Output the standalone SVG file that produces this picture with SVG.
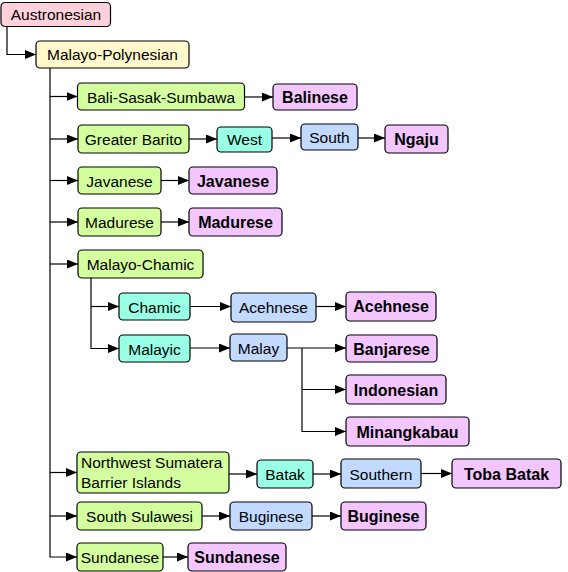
<svg xmlns="http://www.w3.org/2000/svg" width="568" height="572" viewBox="0 0 568 572">
<defs>
<marker id="arr" markerWidth="12" markerHeight="10" refX="11" refY="4.5" orient="auto" markerUnits="userSpaceOnUse">
<path d="M0,0 L11,4.5 L0,9 z" fill="#000"/>
</marker>
<style>
.n rect{stroke:#000;stroke-width:1.2}
.pk{fill:#ffd1dc}.yl{fill:#fff8cc}.gr{fill:#d4ff9e}.cy{fill:#99ffe5}.bl{fill:#c2daff}.pu{fill:#f4c6ff}
text{font-family:"Liberation Sans",Arial,sans-serif;font-size:15.5px;fill:#000;text-anchor:middle}
text.b{font-weight:bold;font-size:16px}
text.l{text-anchor:start}
.c path{fill:none;stroke:#000;stroke-width:1.2;marker-end:url(#arr)}
</style>
</defs>
<rect x="0" y="0" width="568" height="572" fill="#fff"/>
<g class="c" id="connectors">
<path d="M7,26 V54.5 H36"/>
<path d="M50,68 V557 H77"/>
<path d="M50,96.5 H77.5"/>
<path d="M50,139 H78"/>
<path d="M50,180.5 H78"/>
<path d="M50,222 H78"/>
<path d="M50,264 H78"/>
<path d="M50,472.5 H77"/>
<path d="M50,516 H77"/>
<path d="M244.5,97 H273"/>
<path d="M189,139 H217"/>
<path d="M272,138 H301"/>
<path d="M358,138 H385"/>
<path d="M161,180.5 H189"/>
<path d="M161,222 H189"/>
<path d="M91,278 V348.5 H119"/>
<path d="M91,306.5 H119"/>
<path d="M190,306.5 H231"/>
<path d="M316,306.5 H346"/>
<path d="M190,348 H230"/>
<path d="M287,348 H346"/>
<path d="M302,348 V431.5 H346"/>
<path d="M302,389.5 H346"/>
<path d="M229,474 H257"/>
<path d="M313,474 H341"/>
<path d="M421,473.5 H452"/>
<path d="M202,516 H230"/>
<path d="M312,516 H341"/>
<path d="M163,557 H188"/>
</g>
<g class="n" id="austronesian"><rect class="pk" x="1" y="2.5" width="109.5" height="24" rx="4"/><text x="56" y="20">Austronesian</text></g>
<g class="n" id="malayo-polynesian"><rect class="yl" x="36" y="41" width="153" height="27" rx="4"/><text x="112.5" y="60">Malayo-Polynesian</text></g>
<g class="n" id="bali-sasak-sumbawa"><rect class="gr" x="77.5" y="83" width="167" height="27" rx="4"/><text x="161" y="102.5">Bali-Sasak-Sumbawa</text></g>
<g class="n" id="balinese"><rect class="pu" x="273" y="84" width="84" height="26" rx="4"/><text class="b" x="315" y="103">Balinese</text></g>
<g class="n" id="greater-barito"><rect class="gr" x="78" y="125" width="111" height="28" rx="4"/><text x="133.5" y="145">Greater Barito</text></g>
<g class="n" id="west"><rect class="cy" x="217" y="127" width="55" height="25" rx="4"/><text x="244.5" y="145">West</text></g>
<g class="n" id="south"><rect class="bl" x="301" y="124" width="57" height="26" rx="4"/><text x="329.5" y="143">South</text></g>
<g class="n" id="ngaju"><rect class="pu" x="385" y="125" width="63" height="28" rx="4"/><text class="b" x="416.5" y="145">Ngaju</text></g>
<g class="n" id="javanese-g"><rect class="gr" x="78" y="167" width="83" height="27" rx="4"/><text x="119.5" y="186.5">Javanese</text></g>
<g class="n" id="javanese-p"><rect class="pu" x="189" y="167" width="88" height="27" rx="4"/><text class="b" x="233" y="186.5">Javanese</text></g>
<g class="n" id="madurese-g"><rect class="gr" x="78" y="208" width="83" height="28" rx="4"/><text x="119.5" y="228">Madurese</text></g>
<g class="n" id="madurese-p"><rect class="pu" x="189" y="208" width="93" height="28" rx="4"/><text class="b" x="235.5" y="228">Madurese</text></g>
<g class="n" id="malayo-chamic"><rect class="gr" x="78" y="250" width="125" height="28" rx="4"/><text x="140.5" y="270">Malayo-Chamic</text></g>
<g class="n" id="chamic"><rect class="cy" x="119" y="293" width="71" height="27" rx="4"/><text x="154.5" y="312.5">Chamic</text></g>
<g class="n" id="acehnese-b"><rect class="bl" x="231" y="293" width="85" height="29" rx="4"/><text x="273.5" y="313">Acehnese</text></g>
<g class="n" id="acehnese-p"><rect class="pu" x="346" y="292" width="90" height="29" rx="4"/><text class="b" x="391" y="312">Acehnese</text></g>
<g class="n" id="malayic"><rect class="cy" x="119" y="335" width="71" height="27" rx="4"/><text x="154.5" y="354.5">Malayic</text></g>
<g class="n" id="malay"><rect class="bl" x="230" y="334" width="57" height="27" rx="4"/><text x="258.5" y="353.5">Malay</text></g>
<g class="n" id="banjarese"><rect class="pu" x="346" y="335" width="91" height="27" rx="4"/><text class="b" x="391.5" y="354.5">Banjarese</text></g>
<g class="n" id="indonesian"><rect class="pu" x="346" y="375" width="100" height="29" rx="4"/><text class="b" x="396" y="395.5">Indonesian</text></g>
<g class="n" id="minangkabau"><rect class="pu" x="346" y="417" width="123" height="29" rx="4"/><text class="b" x="407.5" y="437.5">Minangkabau</text></g>
<g class="n" id="northwest-sumatera"><rect class="gr" x="77" y="452" width="152" height="41" rx="4"/><text class="l" x="81" y="468">Northwest Sumatera</text><text class="l" x="81" y="488">Barrier Islands</text></g>
<g class="n" id="batak"><rect class="cy" x="257" y="460" width="56" height="28" rx="4"/><text x="285" y="480">Batak</text></g>
<g class="n" id="southern"><rect class="bl" x="341" y="459" width="80" height="29" rx="4"/><text x="381" y="479.5">Southern</text></g>
<g class="n" id="toba-batak"><rect class="pu" x="452" y="459" width="109" height="29" rx="4"/><text class="b" x="506.5" y="479.5">Toba Batak</text></g>
<g class="n" id="south-sulawesi"><rect class="gr" x="77" y="502" width="125" height="28" rx="4"/><text x="139.5" y="522">South Sulawesi</text></g>
<g class="n" id="buginese-b"><rect class="bl" x="230" y="502" width="82" height="28" rx="4"/><text x="271" y="522">Buginese</text></g>
<g class="n" id="buginese-p"><rect class="pu" x="341" y="502" width="85" height="28" rx="4"/><text class="b" x="383.5" y="522">Buginese</text></g>
<g class="n" id="sundanese-g"><rect class="gr" x="77" y="543" width="86" height="28" rx="4"/><text x="120" y="563">Sundanese</text></g>
<g class="n" id="sundanese-p"><rect class="pu" x="188" y="543" width="98" height="28" rx="4"/><text class="b" x="237" y="563">Sundanese</text></g>
</svg>
